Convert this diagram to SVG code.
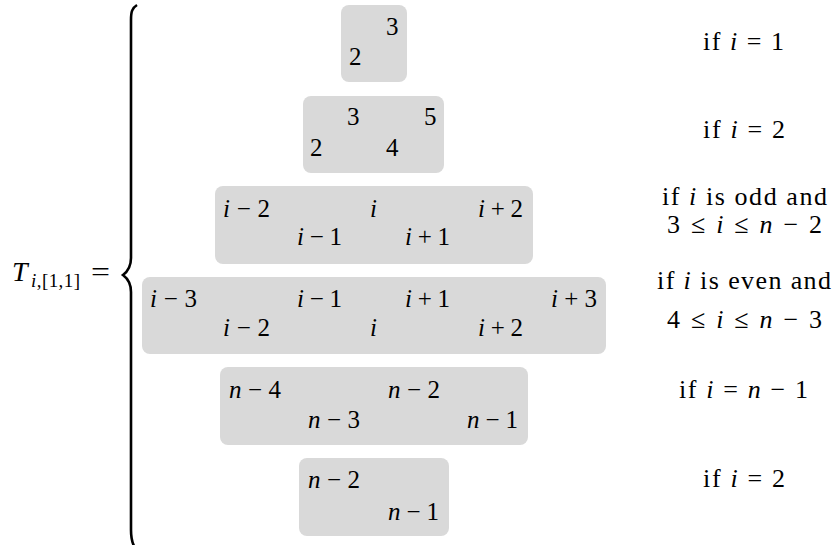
<svg xmlns="http://www.w3.org/2000/svg" width="834" height="545" viewBox="0 0 834 545" font-family="Liberation Serif" font-size="25">
<style>
text{fill:#000}
.it{font-style:italic}
.box{fill:#d9d9d9}
.big{font-size:26px}
.sub{font-size:19px}
</style>
<rect width="834" height="545" fill="#fff"/>
<g id="label">
<text x="12" y="281" font-size="28" class="it" textLength="19">T</text>
<text x="31" y="287" class="sub" textLength="49"><tspan class="it">i</tspan>,[1,1]</text>
<text x="91" y="281" font-size="27" textLength="19" lengthAdjust="spacingAndGlyphs">=</text>
</g>
<g id="brace">
<path d="M137,5 C132,8 131,12 131,20 L131,258 C131,268 127,272 123,275 C127,278 131,282 131,292 L131,530 C131,538 132,542 134,546" fill="none" stroke="#000" stroke-width="2.6"/>
</g>
<g id="case1">
<rect class="box" x="341" y="5" width="66" height="77" rx="8"/>
<text x="386" y="35">3</text>
<text x="349" y="65">2</text>
</g>
<g id="case2">
<rect class="box" x="303" y="96" width="141" height="77" rx="8"/>
<text x="347" y="125">3</text>
<text x="424" y="125">5</text>
<text x="310" y="156">2</text>
<text x="386" y="156">4</text>
</g>
<g id="case3">
<rect class="box" x="215" y="186" width="318" height="78" rx="8"/>
<text x="223" y="217" textLength="47"><tspan class="it">i</tspan> − 2</text>
<text x="370" y="217" class="it">i</text>
<text x="478" y="217" textLength="45"><tspan class="it">i</tspan> + 2</text>
<text x="297" y="245" textLength="45"><tspan class="it">i</tspan> − 1</text>
<text x="405" y="245" textLength="45"><tspan class="it">i</tspan> + 1</text>
</g>
<g id="case4">
<rect class="box" x="142" y="277" width="464" height="77" rx="8"/>
<text x="150" y="307" textLength="47"><tspan class="it">i</tspan> − 3</text>
<text x="297" y="307" textLength="45"><tspan class="it">i</tspan> − 1</text>
<text x="405" y="307" textLength="45"><tspan class="it">i</tspan> + 1</text>
<text x="551" y="307" textLength="46"><tspan class="it">i</tspan> + 3</text>
<text x="223" y="336" textLength="47"><tspan class="it">i</tspan> − 2</text>
<text x="370" y="336" class="it">i</text>
<text x="478" y="336" textLength="45"><tspan class="it">i</tspan> + 2</text>
</g>
<g id="case5">
<rect class="box" x="220" y="367" width="308" height="78" rx="8"/>
<text x="229" y="398" textLength="52"><tspan class="it">n</tspan> − 4</text>
<text x="388" y="398" textLength="52"><tspan class="it">n</tspan> − 2</text>
<text x="308" y="428" textLength="52"><tspan class="it">n</tspan> − 3</text>
<text x="467" y="428" textLength="51"><tspan class="it">n</tspan> − 1</text>
</g>
<g id="case6">
<rect class="box" x="299" y="458" width="150" height="78" rx="8"/>
<text x="308" y="488" textLength="52"><tspan class="it">n</tspan> − 2</text>
<text x="388" y="520" textLength="51"><tspan class="it">n</tspan> − 1</text>
</g>
<g id="conditions">
<text class="big" x="703" y="50" textLength="81">if <tspan class="it">i</tspan> = 1</text>
<text class="big" x="703" y="138" textLength="82">if <tspan class="it">i</tspan> = 2</text>
<text class="big" x="662" y="205" textLength="165">if <tspan class="it">i</tspan> is odd and</text>
<text class="big" x="667" y="233" textLength="155">3 ≤ <tspan class="it">i</tspan> ≤ <tspan class="it">n</tspan> − 2</text>
<text class="big" x="657" y="289" textLength="174">if <tspan class="it">i</tspan> is even and</text>
<text class="big" x="667" y="328" textLength="155">4 ≤ <tspan class="it">i</tspan> ≤ <tspan class="it">n</tspan> − 3</text>
<text class="big" x="679" y="398" textLength="129">if <tspan class="it">i</tspan> = <tspan class="it">n</tspan> − 1</text>
<text class="big" x="703" y="487" textLength="82">if <tspan class="it">i</tspan> = 2</text>
</g>
<g id="connectors"/>
</svg>
